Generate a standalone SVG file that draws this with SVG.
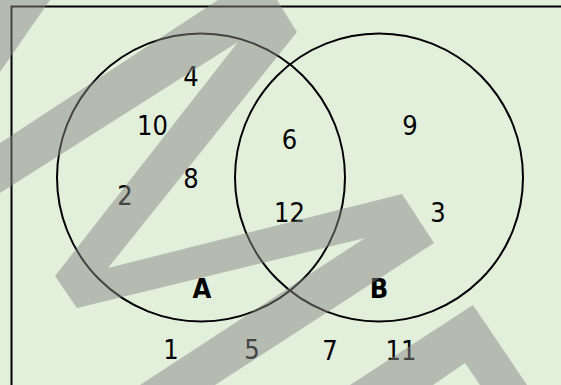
<svg xmlns="http://www.w3.org/2000/svg" width="561" height="385" viewBox="0 0 561 385">
  <style>
    .set { fill: none; stroke: #000; stroke-width: 2; }
    .num { font-family: "DejaVu Sans Condensed", "DejaVu Sans", sans-serif; font-size: 27px; fill: #000; text-anchor: middle; }
    .lbl { font-family: "DejaVu Sans Condensed", "DejaVu Sans", sans-serif; font-size: 27px; font-weight: bold; fill: #000; text-anchor: middle; }
    .wm { fill: #888888; fill-opacity: 0.5; }
  </style>
  <rect x="0" y="0" width="561" height="385" fill="#e2efda"/>
  <rect id="universe" x="11.5" y="6.5" width="600" height="420" fill="none" stroke="#000" stroke-width="2"/>
  <g id="set-A">
    <circle class="set" cx="201" cy="177.5" r="144"/>
    <text class="lbl" x="202" y="298">A</text>
  </g>
  <g id="set-B">
    <circle class="set" cx="379" cy="177.5" r="144"/>
    <text class="lbl" x="379" y="298">B</text>
  </g>
  <g id="only-A">
    <text class="num" x="191" y="86">4</text>
    <text class="num" x="152.5" y="135">10</text>
    <text class="num" x="191" y="188">8</text>
    <text class="num" x="125" y="205">2</text>
  </g>
  <g id="A-and-B">
    <text class="num" x="289.5" y="149">6</text>
    <text class="num" x="289.5" y="222">12</text>
  </g>
  <g id="only-B">
    <text class="num" x="410" y="135">9</text>
    <text class="num" x="438" y="222">3</text>
  </g>
  <g id="outside">
    <text class="num" x="171" y="359">1</text>
    <text class="num" x="252" y="359">5</text>
    <text class="num" x="330" y="360">7</text>
    <text class="num" x="401" y="360">11</text>
  </g>
  <g id="connectors"/>
  <g id="watermark">
    <polygon class="wm" points="0,0 50,0 0,72"/>
    <polygon class="wm" points="0,143 218,0 277,0 297,32 108,268 402,194 434,243 215,385 140,385 365,238 77,308 55,276 238,42 0,193"/>
    <polygon class="wm" points="350,385 473,305 527,385 480,385 465,363 433,385"/>
  </g>
</svg>
